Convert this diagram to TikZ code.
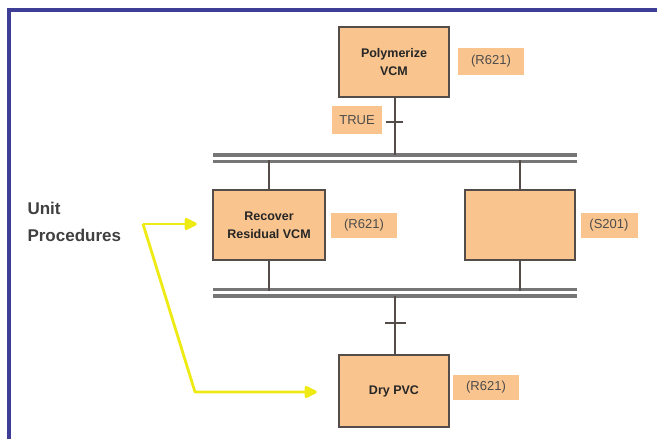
\documentclass[tikz,border=0pt]{standalone}
\usepackage{fontspec}
\setmainfont{Liberation Sans}
\usepackage{xcolor}
\usepackage{tikz}
\usetikzlibrary{arrows.meta}

\definecolor{peach}{RGB}{249,196,142}
\definecolor{frameblue}{RGB}{62,62,150}
\definecolor{edgegray}{RGB}{84,76,72}
\definecolor{bargray}{RGB}{118,118,118}
\definecolor{hiyellow}{RGB}{238,234,20}

\begin{document}
\begin{tikzpicture}[x=1pt,y=-1pt,>={Triangle[length=14pt,width=13pt,round]},
  unit/.style={draw=edgegray,line width=2.4pt,fill=peach,minimum width=110pt,minimum height=70pt,
    align=center,inner sep=0pt,font=\bfseries\fontsize{12.5}{18}\selectfont,text=black!85},
  tag/.style={fill=peach,inner sep=0pt,minimum width=66pt,minimum height=25pt,
    font=\fontsize{13}{15}\selectfont,text=black!70},
  link/.style={draw=edgegray,line width=2.1pt},
  bar/.style={draw=bargray,line width=3.2pt},
  pointer/.style={draw=hiyellow,line width=2.8pt,line join=round}]
\useasboundingbox (0,0) rectangle (657,439);
% frame along top and left edge
\draw[frameblue,line width=3.4pt] (9,439) -- (9,10) -- (657,10);

% unit procedures
\node[unit] (poly) at (394,62) {Polymerize\\VCM};
\node[unit,minimum width=112pt] (recover) at (269,225) {Recover\\Residual VCM};
\node[unit] (spare) at (520,225) {};
\node[unit,minimum height=72pt] (dry) at (394,391) {Dry PVC};

% units
\node[tag,minimum height=27pt] (polyunit) at (491,61) {(R621)};
\node[tag] (recunit) at (364,225) {(R621)};
\node[tag,minimum width=57pt] (spareunit) at (609,225) {(S201)};
\node[tag] (dryunit) at (486,387) {(R621)};
\node[tag,minimum width=50pt,minimum height=28pt] (cond) at (357,120) {TRUE};

% parallel bars
\coordinate (topbar) at (395,155);
\coordinate (botbar) at (395,296);
\draw[bar] (213,155) -- (577,155)
  (213,161.5) -- (577,161.5);
\draw[bar] (213,289.5) -- (577,289.5)
  (213,296) -- (577,296);

% connections
\draw[link] (poly.south -| topbar) -- (topbar);
\draw[link] (recover.north) -- ++(0,-29);
\draw[link] (spare.north) -- ++(0,-29);
\draw[link] (recover.south) -- ++(0,30);
\draw[link] (spare.south) -- ++(0,30);
\draw[link] (botbar) -- (dry.north -| botbar);

% transitions
\coordinate (t1) at (395,122);
\coordinate (t2) at (395,323);
\draw[link] ([xshift=-9pt]t1) -- ([xshift=8pt]t1);
\draw[link] ([xshift=-10pt]t2) -- ([xshift=11pt]t2);

% callout
\node[anchor=west,align=left,font=\bfseries\fontsize{17}{27}\selectfont,text=black!75] (callout) at (24,222) {Unit\\Procedures};
\coordinate (fork) at (143,224);
\coordinate (bend) at (195,392);
\draw[pointer,->] (fork) -- ([xshift=-15pt]recover.west |- fork);
\draw[pointer,->] (fork) -- (bend) -- ([xshift=-21pt]dry.west |- bend);
\end{tikzpicture}
\end{document}
